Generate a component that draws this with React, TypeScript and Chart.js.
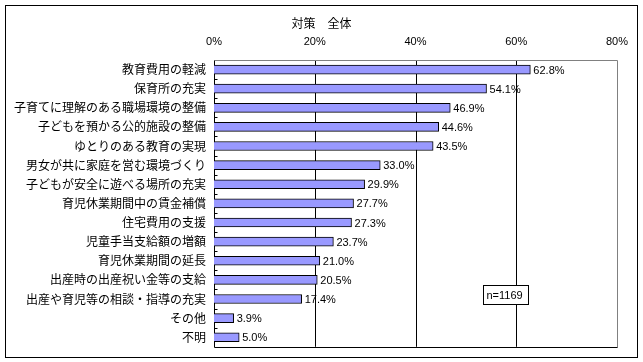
import React, { useEffect, useRef } from "react";
import { Chart, registerables } from "chart.js";

Chart.register(...registerables);

const categories = [
  "教育費用の軽減",
  "保育所の充実",
  "子育てに理解のある職場環境の整備",
  "子どもを預かる公的施設の整備",
  "ゆとりのある教育の実現",
  "男女が共に家庭を営む環境づくり",
  "子どもが安全に遊べる場所の充実",
  "育児休業期間中の賃金補償",
  "住宅費用の支援",
  "児童手当支給額の増額",
  "育児休業期間の延長",
  "出産時の出産祝い金等の支給",
  "出産や育児等の相談・指導の充実",
  "その他",
  "不明",
];
const values = [62.8, 54.1, 46.9, 44.6, 43.5, 33.0, 29.9, 27.7, 27.3, 23.7, 21.0, 20.5, 17.4, 3.9, 5.0];
const xTicks = [0, 20, 40, 60, 80];
const titleText = "対策　全体";
const noteText = "n=1169";

const JP = '"Noto Sans CJK JP", "DejaVu Sans", sans-serif';
const NUM = '"Liberation Sans", Arial, sans-serif';

const framePlugin = {
  id: "frame",
  beforeDatasetsDraw(chart: any) {
    const { ctx, chartArea: a, scales } = chart;
    const x = scales.x;
    const y = scales.y;
    ctx.save();
    ctx.lineWidth = 1;
    ctx.strokeStyle = "#000";
    xTicks.forEach((v) => {
      if (v === 0 || v === 80) return;
      const px = Math.round(x.getPixelForValue(v)) + 0.5;
      ctx.beginPath();
      ctx.moveTo(px, a.top);
      ctx.lineTo(px, a.bottom);
      ctx.stroke();
    });
    ctx.strokeStyle = "#808080";
    const r = Math.round(x.getPixelForValue(80)) + 0.5;
    const t = Math.round(a.top) + 0.5;
    const b = Math.round(a.bottom) + 0.5;
    const l = Math.round(x.getPixelForValue(0)) + 0.5;
    ctx.beginPath();
    ctx.moveTo(l, t);
    ctx.lineTo(r, t);
    ctx.lineTo(r, b);
    ctx.stroke();
    ctx.strokeStyle = "#000";
    ctx.beginPath();
    ctx.moveTo(l, t);
    ctx.lineTo(l, b);
    ctx.lineTo(r, b);
    ctx.stroke();
    const n = categories.length;
    for (let i = 1; i < n; i++) {
      const py = Math.round((y.getPixelForValue(i - 1) + y.getPixelForValue(i)) / 2) + 0.5;
      ctx.beginPath();
      ctx.moveTo(l, py);
      ctx.lineTo(l + 3, py);
      ctx.stroke();
    }
    ctx.restore();
  },
  afterDraw(chart: any) {
    const { ctx, scales, width } = chart;
    const x = scales.x;
    const y = scales.y;
    ctx.save();
    ctx.fillStyle = "#000";
    ctx.font = `11px ${NUM}`;
    ctx.textAlign = "left";
    ctx.textBaseline = "middle";
    values.forEach((v, i) => {
      ctx.fillText(v.toFixed(1) + "%", x.getPixelForValue(v) + 3, y.getPixelForValue(i) + 1);
    });
    ctx.font = `12px ${JP}`;
    ctx.textAlign = "center";
    ctx.fillText(titleText, width / 2, 23);
    const bx = 483.5, by = 285.5, bw = 45, bh = 19;
    ctx.fillStyle = "#fff";
    ctx.fillRect(bx, by, bw, bh);
    ctx.strokeStyle = "#000";
    ctx.lineWidth = 1;
    ctx.strokeRect(bx, by, bw, bh);
    ctx.fillStyle = "#000";
    ctx.font = `11px ${NUM}`;
    ctx.textAlign = "left";
    ctx.fillText(noteText, bx + 3, by + bh / 2 + 1);
    ctx.strokeRect(5.5, 5.5, 632, 352);
    ctx.restore();
  },
};

export default function App() {
  const ref = useRef<HTMLCanvasElement>(null);
  useEffect(() => {
    const chart = new Chart(ref.current!, {
      type: "bar",
      data: {
        labels: categories,
        datasets: [
          {
            data: values,
            backgroundColor: "#9999FF",
            borderColor: "#000",
            borderWidth: 1,
            barThickness: 9,
          },
        ],
      },
      options: {
        indexAxis: "y",
        animation: false,
        responsive: false,
        maintainAspectRatio: false,
        layout: { padding: { left: 0, top: 0, right: 26, bottom: 15 } },
        plugins: {
          legend: { display: false },
          tooltip: { enabled: false },
          title: { display: false },
        },
        scales: {
          x: {
            position: "top",
            min: 0,
            max: 80,
            afterBuildTicks(scale: any) {
              scale.ticks = xTicks.map((v) => ({ value: v }));
            },
            afterFit(scale: any) {
              scale.height = 60;
            },
            grid: { display: false, drawTicks: false },
            border: { display: false },
            ticks: {
              color: "#000",
              padding: 11,
              font: { family: NUM, size: 11 },
              callback: (v: any) => v + "%",
            },
          },
          y: {
            afterFit(scale: any) {
              scale.width = 214;
            },
            grid: { display: false, drawTicks: false },
            border: { display: false },
            ticks: {
              color: "#000",
              padding: 8,
              autoSkip: false,
              font: { family: JP, size: 12 },
            },
          },
        },
      },
      plugins: [framePlugin],
    });
    return () => chart.destroy();
  }, []);
  return (
    <div style={{ position: "absolute", left: 0, top: 0, width: 643, height: 362, background: "#fff" }}>
      <canvas ref={ref} width={643} height={362} style={{ width: 643, height: 362 }} />
    </div>
  );
}
